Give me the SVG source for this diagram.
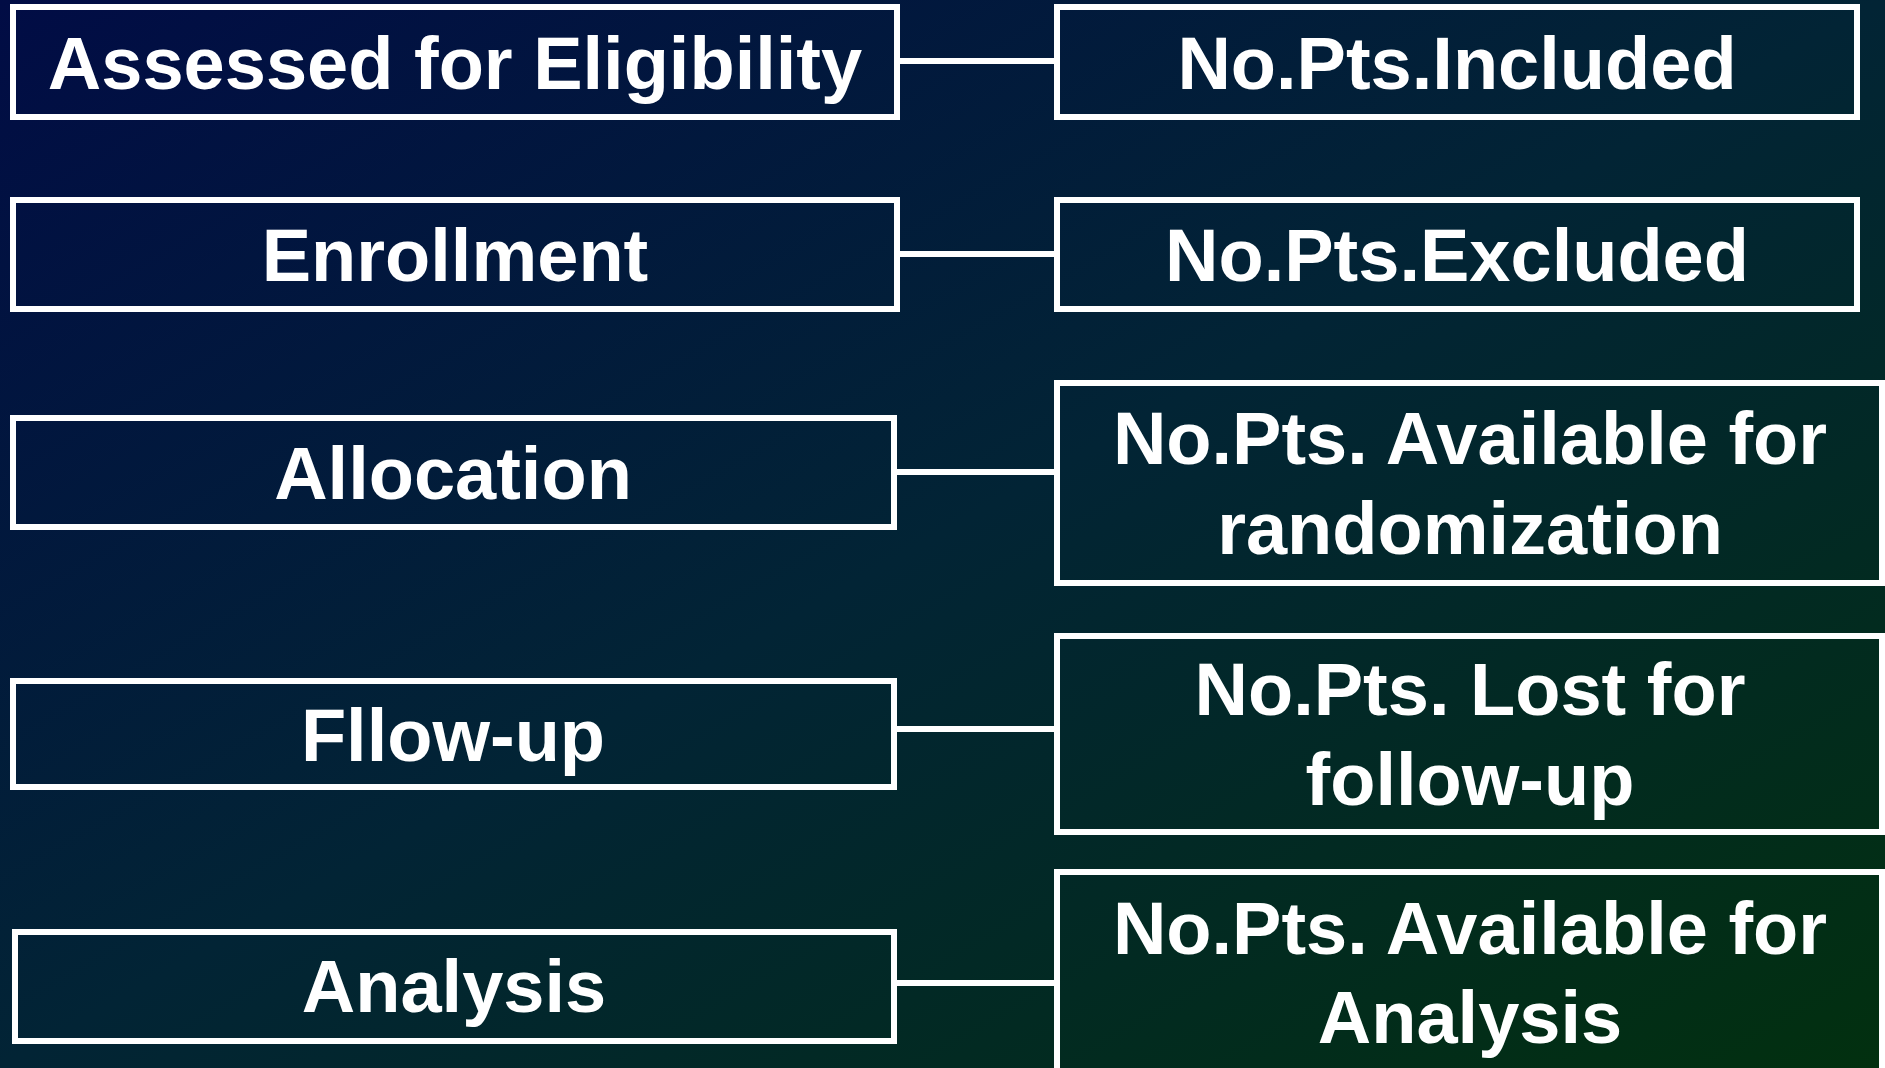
<svg xmlns="http://www.w3.org/2000/svg" width="1885" height="1068" viewBox="0 0 1885 1068">
<defs>
<linearGradient id="bg" x1="0" y1="0" x2="1" y2="1">
<stop offset="0" stop-color="#010c45"/>
<stop offset="0.5" stop-color="#022435"/>
<stop offset="1" stop-color="#02300f"/>
</linearGradient>
<style>
.box{fill:none;stroke:#ffffff;stroke-width:6}
.lbl{fill:#ffffff;font-family:"Liberation Sans",Arial,sans-serif;font-weight:bold;font-size:74px;text-anchor:middle}
.conn{stroke:#ffffff;stroke-width:6;fill:none}
</style>
</defs>
<rect x="0" y="0" width="1885" height="1068" fill="url(#bg)"/>
<g id="connectors">
<line class="conn" x1="897" y1="61" x2="1057" y2="61"/>
<line class="conn" x1="897" y1="254" x2="1057" y2="254"/>
<line class="conn" x1="894" y1="472" x2="1057" y2="472"/>
<line class="conn" x1="894" y1="729" x2="1057" y2="729"/>
<line class="conn" x1="894" y1="983" x2="1057" y2="983"/>
</g>
<g id="assessed">
<rect class="box" x="13" y="7" width="884" height="110"/>
<text class="lbl" x="455" y="89">Assessed for Eligibility</text>
</g>
<g id="enrollment">
<rect class="box" x="13" y="200" width="884" height="109"/>
<text class="lbl" x="455" y="281">Enrollment</text>
</g>
<g id="allocation">
<rect class="box" x="13" y="418" width="881" height="109"/>
<text class="lbl" x="453" y="499">Allocation</text>
</g>
<g id="followup">
<rect class="box" x="13" y="681" width="881" height="106"/>
<text class="lbl" x="453" y="761">Fllow-up</text>
</g>
<g id="analysis">
<rect class="box" x="15" y="932" width="879" height="109"/>
<text class="lbl" x="454" y="1012">Analysis</text>
</g>
<g id="included">
<rect class="box" x="1057" y="7" width="800" height="110"/>
<text class="lbl" x="1457" y="89">No.Pts.Included</text>
</g>
<g id="excluded">
<rect class="box" x="1057" y="200" width="800" height="109"/>
<text class="lbl" x="1457" y="281">No.Pts.Excluded</text>
</g>
<g id="randomization">
<rect class="box" x="1057" y="383" width="825" height="200"/>
<text class="lbl" x="1470" y="464">No.Pts. Available for</text>
<text class="lbl" x="1470" y="554">randomization</text>
</g>
<g id="lost">
<rect class="box" x="1057" y="636" width="825" height="196"/>
<text class="lbl" x="1470" y="715">No.Pts. Lost for</text>
<text class="lbl" x="1470" y="805">follow-up</text>
</g>
<g id="available-analysis">
<rect class="box" x="1057" y="872" width="825" height="220"/>
<text class="lbl" x="1470" y="954">No.Pts. Available for</text>
<text class="lbl" x="1470" y="1043">Analysis</text>
</g>
</svg>
